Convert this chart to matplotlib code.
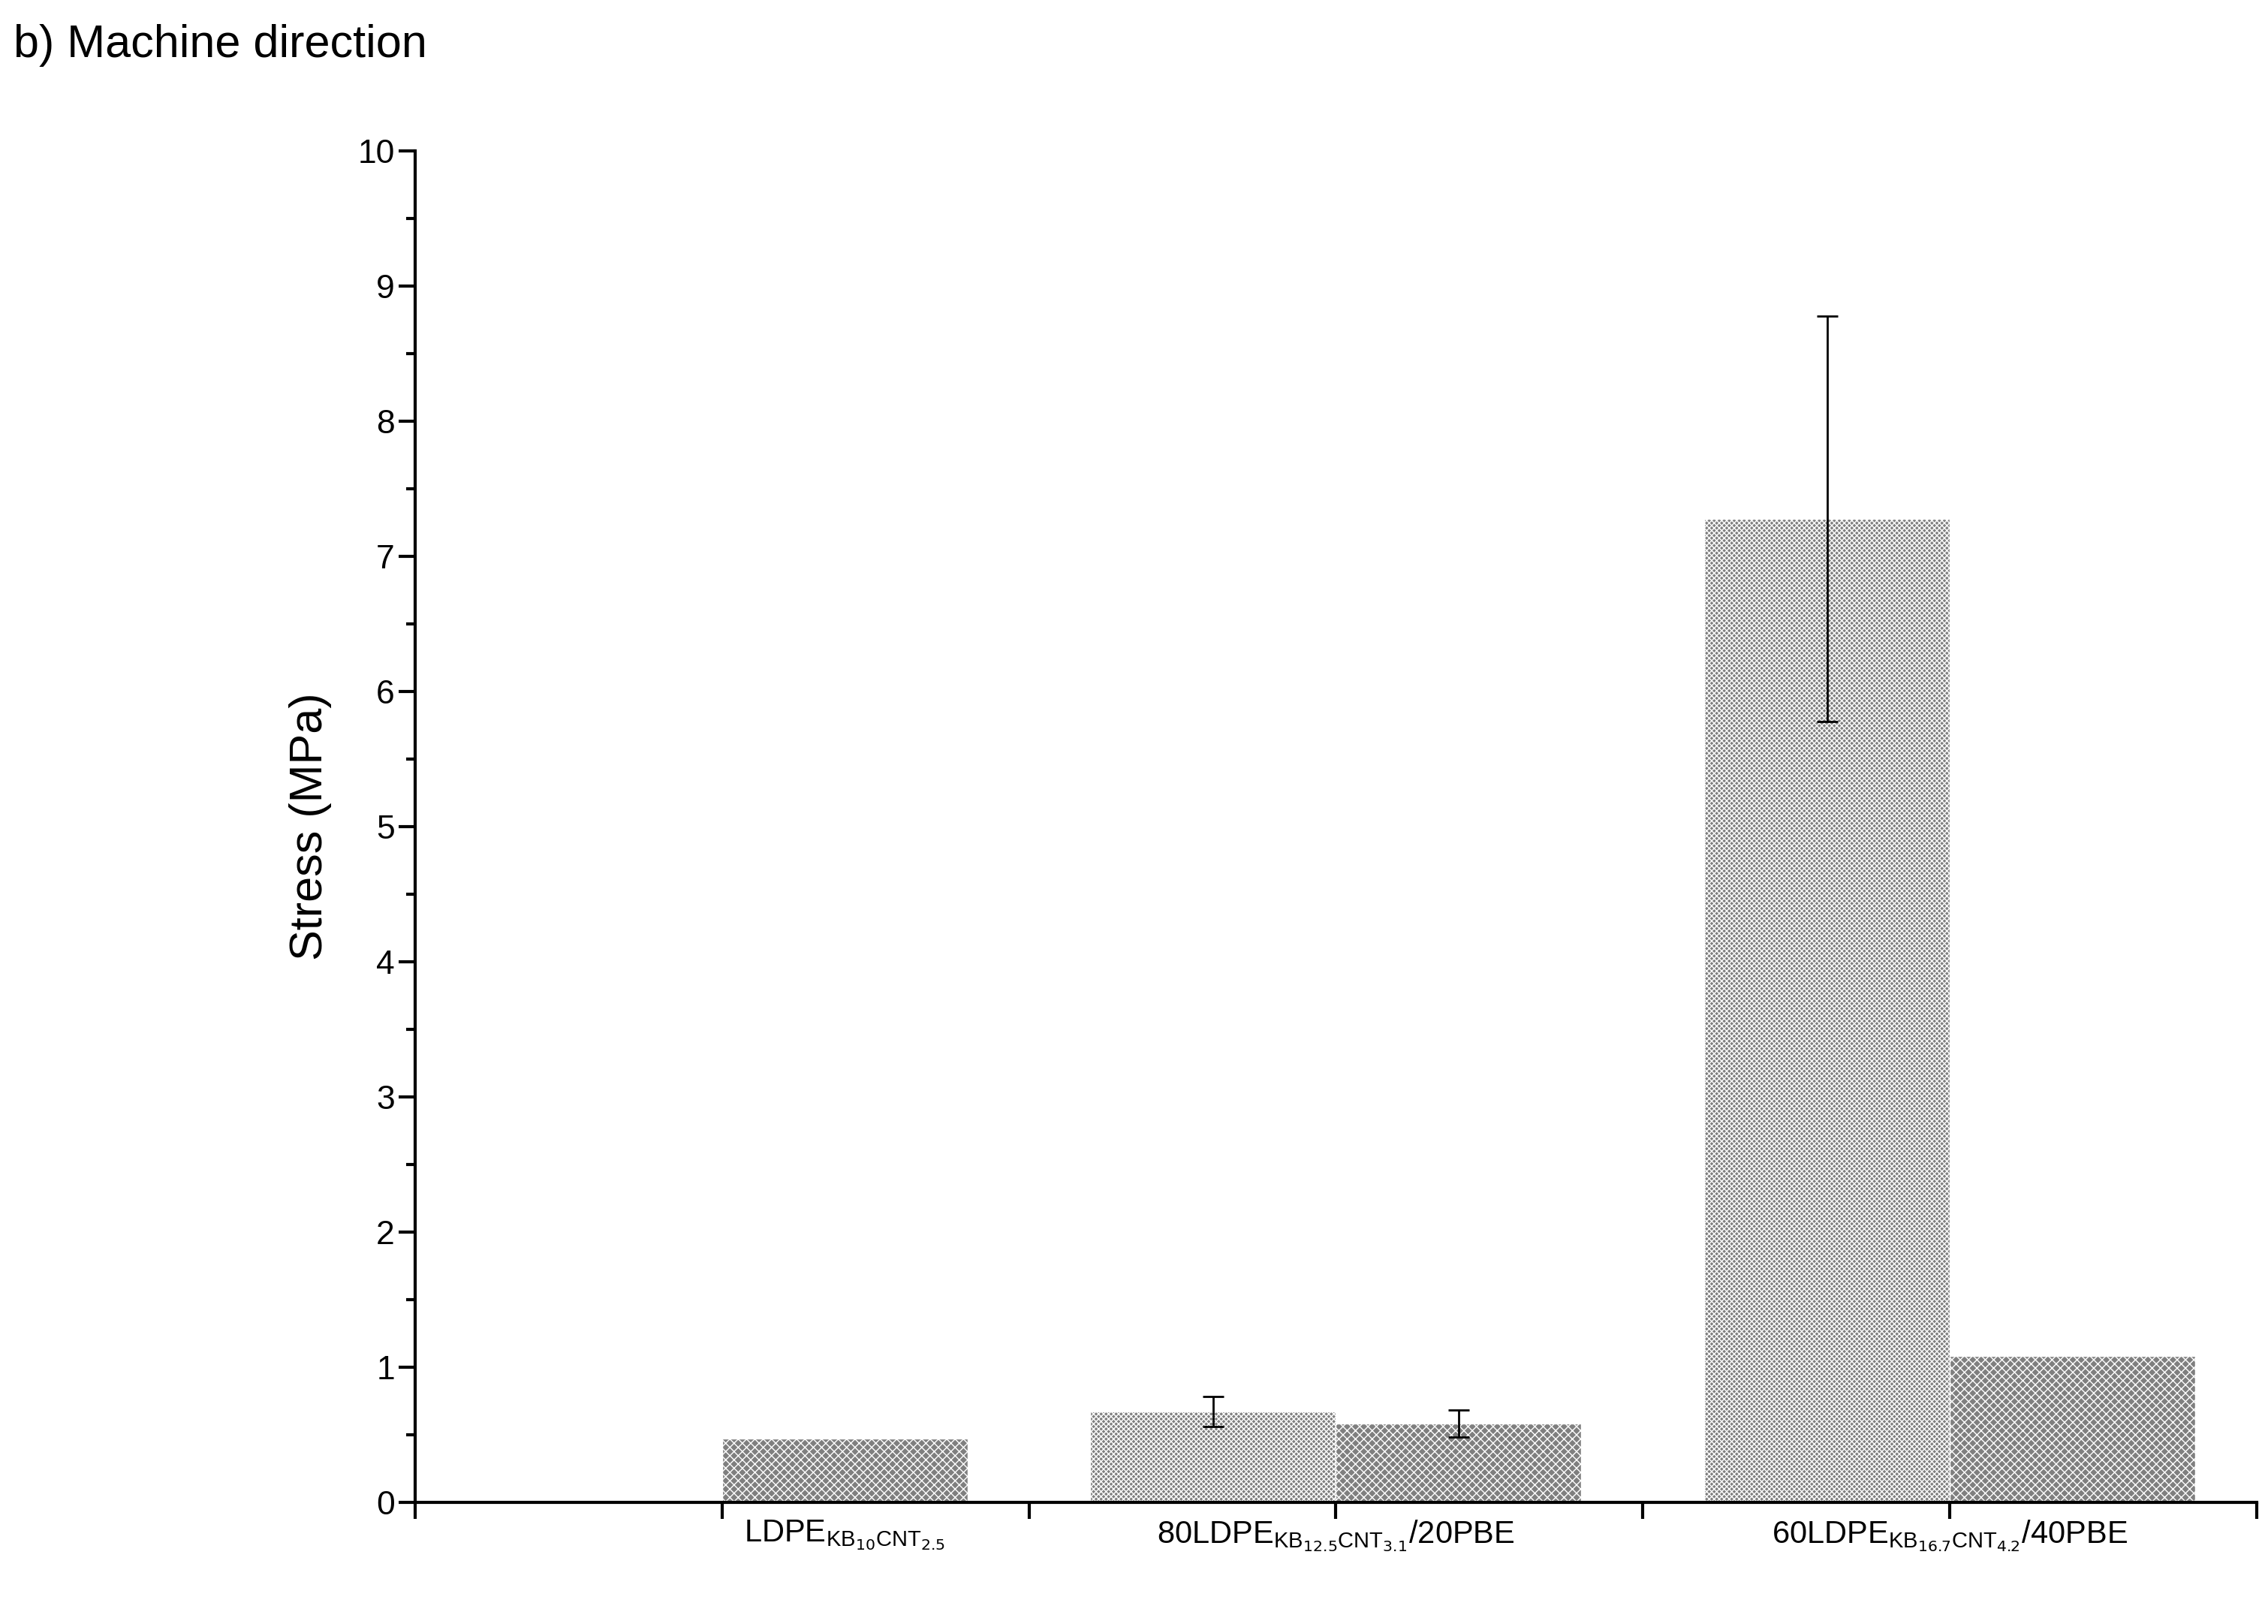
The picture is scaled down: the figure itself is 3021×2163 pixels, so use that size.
import matplotlib
matplotlib.use("Agg")
import matplotlib.pyplot as plt
from matplotlib.ticker import MultipleLocator
plt.rcParams['hatch.color'] = 'white'
plt.rcParams['hatch.linewidth'] = 1.0

positions = [1.0, 2.2, 3.0, 4.2, 5.0]
values = [0.47, 0.67, 0.58, 7.28, 1.08]
errors = [0.0, 0.11, 0.10, 1.50, 0.0]
hatches = ['xxx', 'xxxxx', 'xxx', 'xxxxx', 'xxx']
labels = [r'LDPE$_{\mathregular{KB}_{10}\mathregular{CNT}_{2.5}}$',
          r'80LDPE$_{\mathregular{KB}_{12.5}\mathregular{CNT}_{3.1}}$/20PBE',
          r'60LDPE$_{\mathregular{KB}_{16.7}\mathregular{CNT}_{4.2}}$/40PBE']
label_pos = [1.4, 3.0, 5.0]

fig = plt.figure(figsize=(30.21, 21.63), dpi=100)
ax = fig.add_axes([0.183, 0.075, 0.812, 0.832])
for p, v, e, h in zip(positions, values, errors, hatches):
    ax.bar(p, v, width=0.8, align='edge', color='#7f7f7f', edgecolor='white', hatch=h, linewidth=1)
    if e > 0:
        ax.errorbar(p + 0.4, v, yerr=e, color='black', capsize=10, elinewidth=2, capthick=2)
ax.set_xlim(-1, 5.0 + 1.0)
ax.set_xlim(0, 6)
ax.set_ylim(0, 10)
ax.yaxis.set_major_locator(MultipleLocator(1))
ax.yaxis.set_minor_locator(MultipleLocator(0.5))
ax.set_xticks([0, 1, 2, 3, 4, 5, 6])
ax.set_xticklabels([])
for lp, lab in zip(label_pos, labels):
    ax.text(lp, -0.12, lab, ha='center', va='top', fontsize=30, family='Liberation Sans', transform=ax.transData)
ax.spines['top'].set_visible(False)
ax.spines['right'].set_visible(False)
for s in ['left', 'bottom']:
    ax.spines[s].set_linewidth(3)
ax.tick_params(axis='both', which='major', direction='out', length=16, width=3, labelsize=32)
ax.tick_params(axis='both', which='minor', direction='out', length=9, width=3)
for t in ax.get_yticklabels():
    t.set_family('Liberation Sans')
ax.set_ylabel('Stress (MPa)', fontsize=44, family='Liberation Sans', labelpad=25)
fig.text(0.006, 0.985, 'b) Machine direction', fontsize=44, family='Liberation Sans', va='top', ha='left')
fig.savefig('out.png', dpi=100)
